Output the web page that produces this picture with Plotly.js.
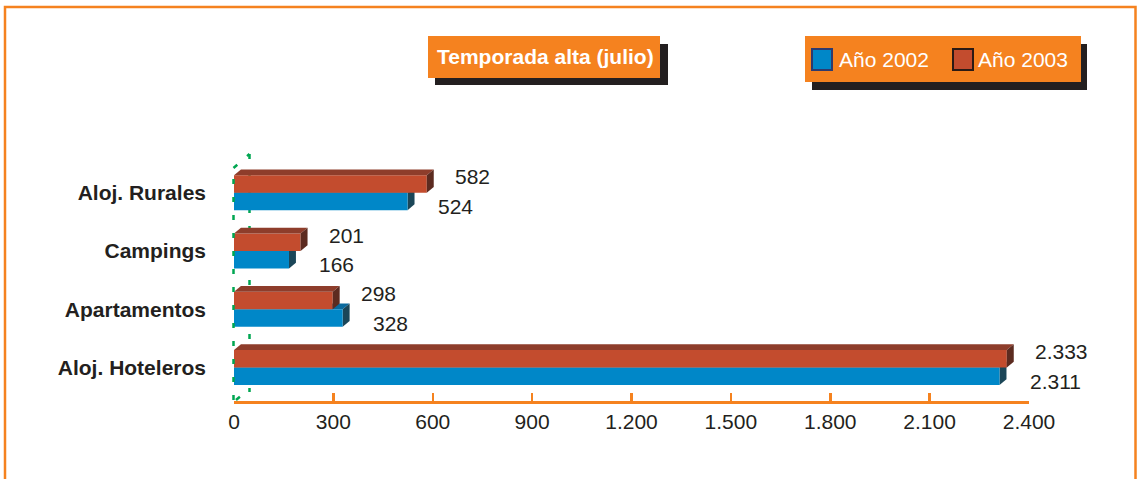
<!DOCTYPE html>
<html>
<head>
<meta charset="utf-8">
<script src="https://cdn.plot.ly/plotly-3.0.1.min.js"></script>
<style>html,body{margin:0;padding:0;background:#fff;}#chart{width:1137px;height:479px;}</style>
</head>
<body>
<div id="chart"></div>
<script>
// ---- data (bottom to top) ----
const categories = ['Aloj. Hoteleros', 'Apartamentos', 'Campings', 'Aloj. Rurales'];
const series2002 = [2311, 328, 166, 524];
const series2003 = [2333, 298, 201, 582];
const seriesNames = ['Año 2002', 'Año 2003'];
const chartTitle = 'Temporada alta (julio)';
const xTicks = [0, 300, 600, 900, 1200, 1500, 1800, 2100, 2400];

// ---- layout geometry ----
const W = 1137, H = 479, ml = 234, mr = 108, mt = 149, mb = 78;
const pw = W - ml - mr, ph = H - mt - mb;
const px2x = p => (p - ml) / pw;
const py2y = p => (H - mb - p) / ph;

const ORANGE = '#f5821f', BLUE = '#0087c8', RED = '#c34c2e', INK = '#231f20';
const FONT = 'Liberation Sans, Arial, sans-serif';
const idx = categories.map((c, i) => i);
const BW = 0.3, DX = 21, DY = 0.1;

const fmt = v => String(v).replace(/\B(?=(\d{3})+(?!\d))/g, '.');

const traces = [
  {type: 'bar', orientation: 'h', name: seriesNames[0], y: idx, x: series2002,
   width: BW, offset: -BW, marker: {color: BLUE, line: {width: 0}}, showlegend: false, hoverinfo: 'x'},
  {type: 'bar', orientation: 'h', name: seriesNames[1], y: idx, x: series2003,
   width: BW, offset: 0, marker: {color: RED, line: {width: 0}}, showlegend: false, hoverinfo: 'x'}
];

const shapes = [];
const annotations = [];
const poly = (pts) => 'M' + pts.map(p => p[0] + ',' + p[1]).join('L') + 'Z';

// 3D faces computed from data
idx.forEach(i => {
  const vb = series2002[i], vr = series2003[i];
  shapes.push({type: 'path', xref: 'x', yref: 'y', layer: 'below', line: {width: 0}, fillcolor: '#0a6a9e',
    path: poly([[0, i], [vb, i], [vb + DX, i + DY], [DX, i + DY]])});
  shapes.push({type: 'path', xref: 'x', yref: 'y', layer: 'below', line: {width: 0}, fillcolor: '#1b4658',
    path: poly([[vb, i - BW], [vb, i], [vb + DX, i + DY], [vb + DX, i - BW + DY]])});
  shapes.push({type: 'path', xref: 'x', yref: 'y', layer: 'above', line: {width: 0}, fillcolor: '#8e3d2b',
    path: poly([[0, i + BW], [vr, i + BW], [vr + DX, i + BW + DY], [DX, i + BW + DY]])});
  shapes.push({type: 'path', xref: 'x', yref: 'y', layer: 'above', line: {width: 0}, fillcolor: '#5c2b20',
    path: poly([[vr, i], [vr, i + BW], [vr + DX, i + BW + DY], [vr + DX, i + DY]])});

  annotations.push({x: vr, y: i + BW / 2, xref: 'x', yref: 'y', text: fmt(vr), showarrow: false,
    xanchor: 'left', yanchor: 'middle', xshift: 26, yshift: 7, font: {family: FONT, size: 21, color: INK}});
  annotations.push({x: vb, y: i - BW / 2, xref: 'x', yref: 'y', text: fmt(vb), showarrow: false,
    xanchor: 'left', yanchor: 'middle', xshift: 28, yshift: -5, font: {family: FONT, size: 21, color: INK}});
});

// outer frame
shapes.push({type: 'path', xref: 'paper', yref: 'paper', layer: 'above', line: {color: ORANGE, width: 2.5},
  path: 'M' + px2x(5) + ',' + py2y(490) + 'L' + px2x(5) + ',' + py2y(7) + 'L' + px2x(1135.5) + ',' + py2y(7) + 'L' + px2x(1135.5) + ',' + py2y(490)});

// green dotted wall edges
const GREEN = '#00a651';
const gline = (x0, y0, x1, y1, layer) => shapes.push({type: 'line', xref: 'paper', yref: 'paper', layer: layer,
  x0: px2x(x0), y0: py2y(y0), x1: px2x(x1), y1: py2y(y1), line: {color: GREEN, width: 2.5, dash: '5px,13px'}});
gline(249.5, 154, 249.5, 392, 'below');
gline(233.5, 400, 233.5, 168, 'above');
gline(233.5, 168, 249.5, 154, 'above');
gline(236, 400, 249.5, 389, 'below');

// boxes
const rect = (x0, y0, x1, y1, fill, line) => shapes.push({type: 'rect', xref: 'paper', yref: 'paper', layer: 'above',
  x0: px2x(x0), y0: py2y(y1), x1: px2x(x1), y1: py2y(y0), fillcolor: fill, line: line || {width: 0}});
rect(435, 44, 668, 85, INK);
rect(428, 36, 660, 78, ORANGE);
annotations.push({xref: 'paper', yref: 'paper', x: px2x(545), y: py2y(57), text: chartTitle, showarrow: false,
  xanchor: 'center', yanchor: 'middle', font: {family: FONT, size: 21, color: '#ffffff', weight: 'bold'}});
rect(812, 44, 1087, 90, INK);
rect(805, 36, 1081, 82, ORANGE);
rect(812, 49, 832, 70, BLUE, {color: '#2e3a6e', width: 2});
rect(953, 49, 973, 70, RED, {color: '#2b1a14', width: 2});
annotations.push({xref: 'paper', yref: 'paper', x: px2x(837), y: py2y(60), text: seriesNames[0], showarrow: false,
  xanchor: 'left', yanchor: 'middle', font: {family: FONT, size: 21, color: '#ffffff'}});
annotations.push({xref: 'paper', yref: 'paper', x: px2x(976), y: py2y(60), text: seriesNames[1], showarrow: false,
  xanchor: 'left', yanchor: 'middle', font: {family: FONT, size: 21, color: '#ffffff'}});

const layout = {
  width: W, height: H,
  margin: {l: ml, r: mr, t: mt, b: mb, pad: 0},
  paper_bgcolor: '#ffffff', plot_bgcolor: 'rgba(0,0,0,0)',
  separators: ',.',
  barmode: 'overlay',
  showlegend: false,
  font: {family: FONT, color: INK},
  xaxis: {
    range: [0, 2400], tickvals: xTicks, tickformat: ',d', showgrid: false, zeroline: false,
    showline: true, linecolor: ORANGE, linewidth: 2.5,
    ticks: 'inside', ticklen: 8, tickwidth: 2.5, tickcolor: ORANGE,
    tickfont: {family: FONT, size: 21, color: INK}, fixedrange: true
  },
  yaxis: {
    range: [-0.574, 3.75], tickvals: idx, ticktext: categories, showgrid: false, zeroline: false,
    showline: false, ticks: '', ticklabelstandoff: 27,
    tickfont: {family: FONT, size: 21, color: INK, weight: 'bold'}, fixedrange: true
  },
  shapes: shapes,
  annotations: annotations
};

Plotly.newPlot('chart', traces, layout, {displayModeBar: false, staticPlot: true});
</script>
</body>
</html>
